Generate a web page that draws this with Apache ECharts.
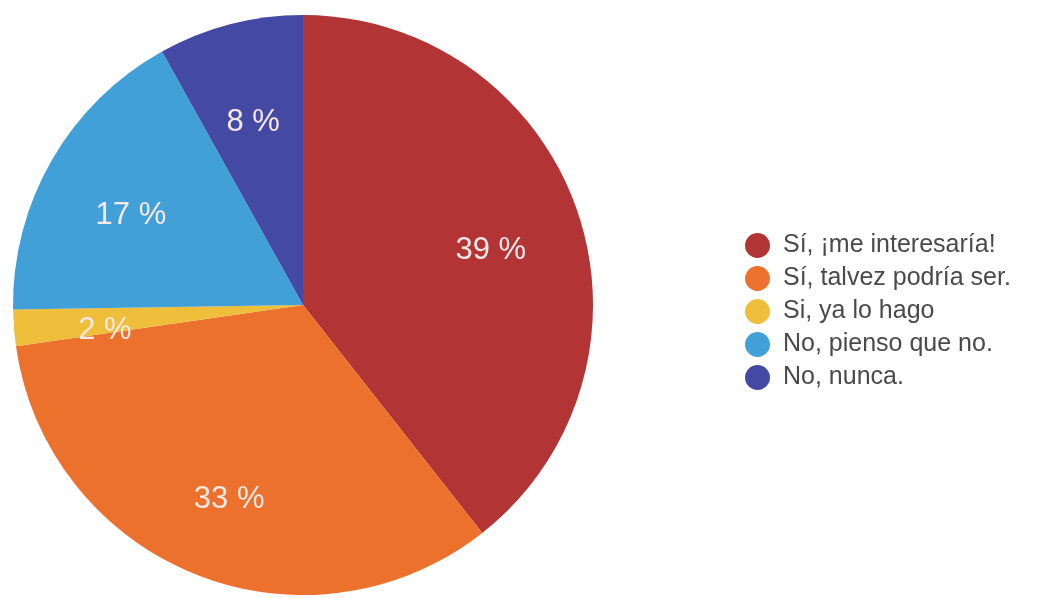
<!DOCTYPE html>
<html>
<head>
<meta charset="utf-8">
<script src="https://cdn.jsdelivr.net/npm/echarts@6/dist/echarts.min.js"></script>
<style>html,body{margin:0;padding:0;background:#fff;}#c{width:1048px;height:598px;}</style>
</head>
<body>
<div id="c"></div>
<script>
const categories = ['Sí, ¡me interesaría!', 'Sí, talvez podría ser.', 'Si, ya lo hago', 'No, pienso que no.', 'No, nunca.'];
const values = [39, 33, 2, 17, 8];
const colors = ['#b23434', '#ec712d', '#efbe3a', '#42a0d8', '#4449a4'];

const R = 290;
const center = [303, 305];
const data = categories.map((n, i) => ({ name: n, value: values[i], itemStyle: { color: colors[i] } }));

const chart = echarts.init(document.getElementById('c'));
chart.setOption({
  animation: false,
  legend: {
    orient: 'vertical',
    left: 740,
    top: 228,
    icon: 'circle',
    itemWidth: 25,
    itemHeight: 25,
    itemGap: 8,
    textStyle: { fontFamily: 'Liberation Sans, Arial, sans-serif', fontSize: 25, color: '#4a4a4a', padding: [0, 0, 0, 8] },
    data: categories
  },
  series: [
    {
      type: 'pie',
      center: center,
      radius: [0, R],
      startAngle: 90,
      clockwise: true,
      data: data,
      label: { show: false },
      labelLine: { show: false },
      itemStyle: { borderWidth: 0 },
      emphasis: { disabled: true }
    },
    {
      type: 'pie',
      center: center,
      radius: [0, R * 1.35],
      startAngle: 90,
      clockwise: true,
      silent: true,
      data: categories.map((n, i) => ({ name: n, value: values[i] })),
      itemStyle: { color: 'rgba(0,0,0,0)', borderWidth: 0 },
      label: {
        show: true,
        position: 'inside',
        formatter: p => p.value + ' %',
        color: '#f6e8e6',
        fontFamily: 'Liberation Sans, Arial, sans-serif',
        fontSize: 31,
        offset: [0, 10]
      },
      labelLine: { show: false },
      emphasis: { disabled: true },
      legendHoverLink: false
    }
  ]
});
</script>
</body>
</html>
